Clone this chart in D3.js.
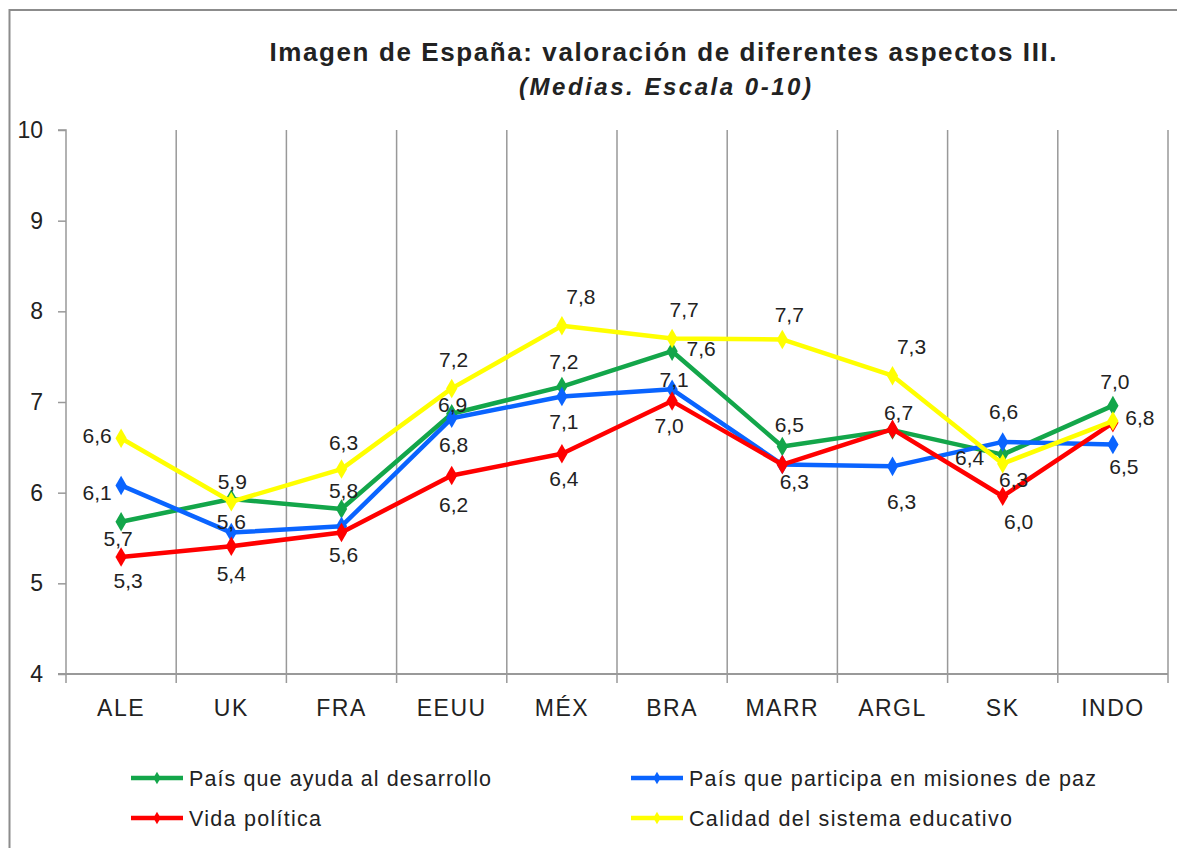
<!DOCTYPE html>
<head>
  <meta charset="utf-8">
  <script src="https://d3js.org/d3.v7.min.js"></script>
  <style>
    body { margin: 0; background: #fff; }
    text { font-family: "Liberation Sans", Arial, sans-serif; fill: #222; }
  </style>
</head>

<body>
  <div class="chart"></div>

  <script>
    // countries on the x axis
    var countries = ["ALE", "UK", "FRA", "EEUU", "MÉX", "BRA", "MARR", "ARGL", "SK", "INDO"];

    // mean scores (0-10)
    var ayudaDesarrollo = [5.68, 5.93, 5.82, 6.87, 7.17, 7.56, 6.51, 6.69, 6.42, 6.96];
    var misionesPaz     = [6.08, 5.56, 5.63, 6.82, 7.06, 7.14, 6.31, 6.29, 6.56, 6.53];
    var vidaPolitica    = [5.29, 5.41, 5.56, 6.19, 6.43, 7.01, 6.31, 6.70, 5.96, 6.77];
    var calidadEduc     = [6.60, 5.90, 6.26, 7.15, 7.84, 7.70, 7.69, 7.29, 6.32, 6.79];

    var yTicks = [4, 5, 6, 7, 8, 9, 10];

    // where each value label sits relative to its point (null = hidden, as in the original)
    var labelSpots = {
      green:  [[-3, 17], null, [2, -18], [1, -9], [2, -25], [29, -3], [7, -22], [6, -17], [-33, 3], [2, -24]],
      blue:   [[-24, 7], [0, -11], null, [2, 26], [2, 25], [2, -10], [12, 17], [9, 35], [1, -30], [11, 22]],
      red:    [[7, 24], [0, 27], [2, 22], [2, 29], [2, 25], [-3, 25], null, null, [16, 25], null],
      yellow: [[-24, -3], [1, -20], [2, -26], [2, -29], [19, -29], [12, -29], [7, -25], [19, -29], [11, 16], [27, -3]]
    };

    var series = [
      { key: "green",  name: "País que ayuda al desarrollo",          color: "#13a64a", values: ayudaDesarrollo, w: 302 },
      { key: "blue",   name: "País que participa en misiones de paz", color: "#0a64ff", values: misionesPaz,     w: 407 },
      { key: "red",    name: "Vida política",                         color: "#ff0000", values: vidaPolitica,    w: 132 },
      { key: "yellow", name: "Calidad del sistema educativo",         color: "#ffff00", values: calidadEduc,     w: 323 }
    ];

    var width = 1177, height = 848;

    var svg = d3.select(".chart")
      .append("svg")
      .attr("width", width)
      .attr("height", height);

    // chart frame
    svg.append("rect")
      .attr("x", 9.5).attr("y", 10)
      .attr("width", 1200).attr("height", 900)
      .attr("fill", "none")
      .attr("stroke", "#8c8c8c")
      .attr("stroke-width", 2);

    svg.append("text")
      .attr("x", 663).attr("y", 61)
      .attr("text-anchor", "middle")
      .attr("textLength", 787)
      .attr("lengthAdjust", "spacing")
      .style("font-size", "26px")
      .style("font-weight", "bold")
      .text("Imagen de España: valoración de diferentes aspectos III.");

    svg.append("text")
      .attr("x", 665).attr("y", 95)
      .attr("text-anchor", "middle")
      .attr("textLength", 292)
      .attr("lengthAdjust", "spacing")
      .style("font-size", "24px")
      .style("font-weight", "bold")
      .style("font-style", "italic")
      .text("(Medias. Escala 0-10)");

    var x = d3.scaleBand().domain(countries).range([66, 1168]);
    var y = d3.scaleLinear().domain([4, 10]).range([674, 130]);

    var gridColor = "#999";

    // vertical separators between countries
    var bounds = countries.map(function(c) { return x(c) + x.bandwidth(); });
    svg.selectAll(".vgrid")
      .data(bounds)
      .enter().append("line")
      .attr("class", "vgrid")
      .attr("x1", function(d) { return d; })
      .attr("x2", function(d) { return d; })
      .attr("y1", y(10))
      .attr("y2", y(4) + 9)
      .attr("stroke", gridColor)
      .attr("stroke-width", 1.5);

    // y axis
    var yAxis = svg.append("g")
      .attr("transform", "translate(66,0)")
      .call(d3.axisLeft(y).tickValues(yTicks).tickSize(8).tickPadding(15).tickFormat(d3.format("d")));
    yAxis.selectAll("path, line").attr("stroke", gridColor).attr("stroke-width", 1.5);
    yAxis.select(".domain").attr("d", "M-8," + y(10) + "H0V" + y(4) + "H-8");
    yAxis.selectAll("text")
      .style("font-size", "23px")
      .style("font-family", "'Liberation Sans', Arial, sans-serif")
      .attr("fill", "#222");

    // x axis
    svg.append("line")
      .attr("x1", 58).attr("x2", 1168)
      .attr("y1", y(4)).attr("y2", y(4))
      .attr("stroke", gridColor)
      .attr("stroke-width", 2);
    svg.append("line")
      .attr("x1", 66).attr("x2", 66)
      .attr("y1", y(4)).attr("y2", y(4) + 9)
      .attr("stroke", gridColor)
      .attr("stroke-width", 1.5);

    svg.selectAll(".xlabel")
      .data(countries)
      .enter().append("text")
      .attr("class", "xlabel")
      .attr("x", function(d) { return x(d) + x.bandwidth() / 2; })
      .attr("y", 716)
      .attr("text-anchor", "middle")
      .style("font-size", "23px")
      .style("letter-spacing", "1.5px")
      .text(function(d) { return d; });

    var line = d3.line()
      .x(function(d, i) { return x(countries[i]) + x.bandwidth() / 2; })
      .y(function(d) { return y(d); });

    var diamond = d3.symbol().type(d3.symbolDiamond).size(110);

    series.forEach(function(s) {
      var g = svg.append("g");
      g.append("path")
        .attr("d", line(s.values))
        .attr("fill", "none")
        .attr("stroke", s.color)
        .attr("stroke-width", 4.5)
        .attr("stroke-linejoin", "round");
      g.selectAll(".pt")
        .data(s.values)
        .enter().append("path")
        .attr("class", "pt")
        .attr("d", diamond)
        .attr("transform", function(d, i) {
          return "translate(" + (x(countries[i]) + x.bandwidth() / 2) + "," + y(d) + ")";
        })
        .attr("fill", s.color);
    });

    // value labels drawn on top
    var fmt = function(v) { return d3.format(".1f")(v).replace(".", ","); };
    series.forEach(function(s) {
      svg.selectAll(".lbl-" + s.key)
        .data(s.values.map(function(v, i) { return { v: v, i: i, off: labelSpots[s.key][i] }; })
          .filter(function(d) { return d.off; }))
        .enter().append("text")
        .attr("x", function(d) { return x(countries[d.i]) + x.bandwidth() / 2 + d.off[0]; })
        .attr("y", function(d) { return y(d.v) + d.off[1]; })
        .attr("dy", "0.35em")
        .attr("text-anchor", "middle")
        .style("font-size", "21px")
        .text(function(d) { return fmt(d.v); });
    });

    // legend
    var legend = svg.selectAll(".legend")
      .data(series)
      .enter().append("g")
      .attr("class", "legend")
      .attr("transform", function(d, i) {
        return "translate(" + (i % 2 === 0 ? 131 : 631) + "," + (i < 2 ? 778 : 818) + ")";
      });
    legend.append("line")
      .attr("x1", 0).attr("x2", 52)
      .attr("stroke", function(d) { return d.color; })
      .attr("stroke-width", 4.5);
    legend.append("path")
      .attr("d", d3.symbol().type(d3.symbolDiamond).size(45))
      .attr("transform", "translate(26,0)")
      .attr("fill", function(d) { return d.color; });
    legend.append("text")
      .attr("x", 58)
      .attr("dy", "0.35em")
      .attr("textLength", function(d) { return d.w; })
      .attr("lengthAdjust", "spacing")
      .style("font-size", "21.5px")
      .text(function(d) { return d.name; });
  </script>
</body>
